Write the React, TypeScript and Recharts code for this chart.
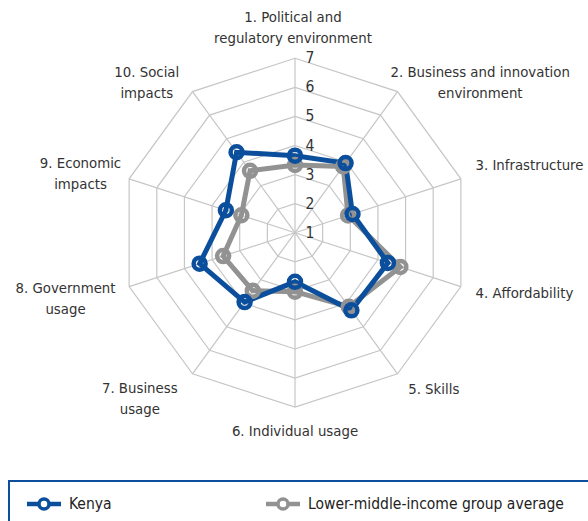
import React from "react";
import { RadarChart, Radar, PolarGrid, PolarAngleAxis, PolarRadiusAxis } from "recharts";

const categories = [
  "1. Political and\nregulatory environment",
  "2. Business and innovation\nenvironment",
  "3. Infrastructure",
  "4. Affordability",
  "5. Skills",
  "6. Individual usage",
  "7. Business\nusage",
  "8. Government\nusage",
  "9. Economic\nimpacts",
  "10. Social\nimpacts",
];
const kenya = [3.65, 3.96, 3.08, 4.36, 4.3, 2.69, 3.95, 4.45, 3.5, 4.42];
const lmiAverage = [3.33, 3.82, 2.92, 4.81, 4.15, 3.03, 3.47, 3.6, 2.94, 3.63];
const radiusTicks = [1, 2, 3, 4, 5, 6, 7];
const seriesNames = ["Kenya", "Lower-middle-income group average"];

const data = categories.map((c, i) => ({ cat: c, kenya: kenya[i], lmi: lmiAverage[i] }));

const BLUE = "#0b4f9c";
const GRAY = "#929292";
const FONT = "'Liberation Sans Narrow', 'DejaVu Sans Condensed', Arial, sans-serif";

// label layout relative to the tick point: [anchor, dx, dy of first line]
const labelLayout: [string, number, number][] = [
  ["middle", -2, -28],
  ["middle", 78, -8],
  ["start", 7, -6],
  ["start", 7, 9],
  ["start", 6, 14],
  ["middle", 0, 21],
  ["middle", -48, 13],
  ["middle", -56, 4],
  ["middle", -41, -8],
  ["middle", -41, -8],
];

const AngleTick = (props: any) => {
  const { x, y, payload, index } = props;
  const lines = String(payload.value).split("\n");
  const [anchor, dx, dy] = labelLayout[index] || ["middle", 0, 0];
  return (
    <text x={x + dx} y={y + dy} textAnchor={anchor} fill="#333" fontSize={14.8} fontFamily={FONT}>
      {lines.map((l, i) => (
        <tspan key={i} x={x + dx} dy={i === 0 ? 0 : 21}>
          {l}
        </tspan>
      ))}
    </text>
  );
};

const RadiusTick = (props: any) => {
  const { x, y, payload } = props;
  return (
    <text x={x + 15} y={y + 5} textAnchor="middle" fill="#333" fontSize={15.5} fontFamily={FONT}>
      {payload.value}
    </text>
  );
};

const LegendIcon = ({ color }: { color: string }) => (
  <svg width={34} height={14} style={{ display: "block" }}>
    <line x1={0} y1={7} x2={34} y2={7} stroke={color} strokeWidth={4.5} />
    <circle cx={17} cy={7} r={5} fill="#fff" stroke={color} strokeWidth={3.5} />
  </svg>
);

export default function App() {
  return (
    <div style={{ position: "absolute", left: 0, top: 0, width: 588, height: 521, overflow: "hidden", background: "#fff" }}>
      <RadarChart
        width={588}
        height={470}
        data={data}
        cx={295}
        cy={232.7}
        outerRadius={174.4}
        startAngle={90}
        endAngle={-270}
        margin={{ top: 0, right: 0, bottom: 0, left: 0 }}
      >
        <PolarGrid gridType="polygon" stroke="#c6c6c6" strokeWidth={1.2} />
        <PolarAngleAxis dataKey="cat" tick={<AngleTick />} tickLine={false} axisLine={false} />
        <PolarRadiusAxis
          angle={90}
          domain={[1, 7]}
          ticks={radiusTicks as any}
          tickCount={7}
          axisLine={false}
          tick={<RadiusTick />}
          tickLine={false}
        />
        <Radar
          name={seriesNames[1]}
          dataKey="lmi"
          stroke={GRAY}
          strokeWidth={5}
          fill="none"
          fillOpacity={0}
          dot={{ r: 6, fill: "#fff", stroke: GRAY, strokeWidth: 4.5 }}
          isAnimationActive={false}
        />
        <Radar
          name={seriesNames[0]}
          dataKey="kenya"
          stroke={BLUE}
          strokeWidth={5}
          fill="none"
          fillOpacity={0}
          dot={{ r: 6, fill: "#fff", stroke: BLUE, strokeWidth: 4.5 }}
          isAnimationActive={false}
        />
      </RadarChart>
      <div
        style={{
          position: "absolute",
          left: 8,
          top: 480,
          width: 600,
          height: 60,
          borderTop: `2px solid ${BLUE}`,
          borderLeft: `2px solid ${BLUE}`,
          fontFamily: FONT,
          fontSize: 15.5,
          color: "#222",
        }}
      >
        <div style={{ position: "absolute", left: 17, top: 13, display: "flex", alignItems: "center", gap: 8 }}>
          <LegendIcon color={BLUE} />
          <span>{seriesNames[0]}</span>
        </div>
        <div style={{ position: "absolute", left: 256, top: 13, display: "flex", alignItems: "center", gap: 8 }}>
          <LegendIcon color={GRAY} />
          <span>{seriesNames[1]}</span>
        </div>
      </div>
    </div>
  );
}
